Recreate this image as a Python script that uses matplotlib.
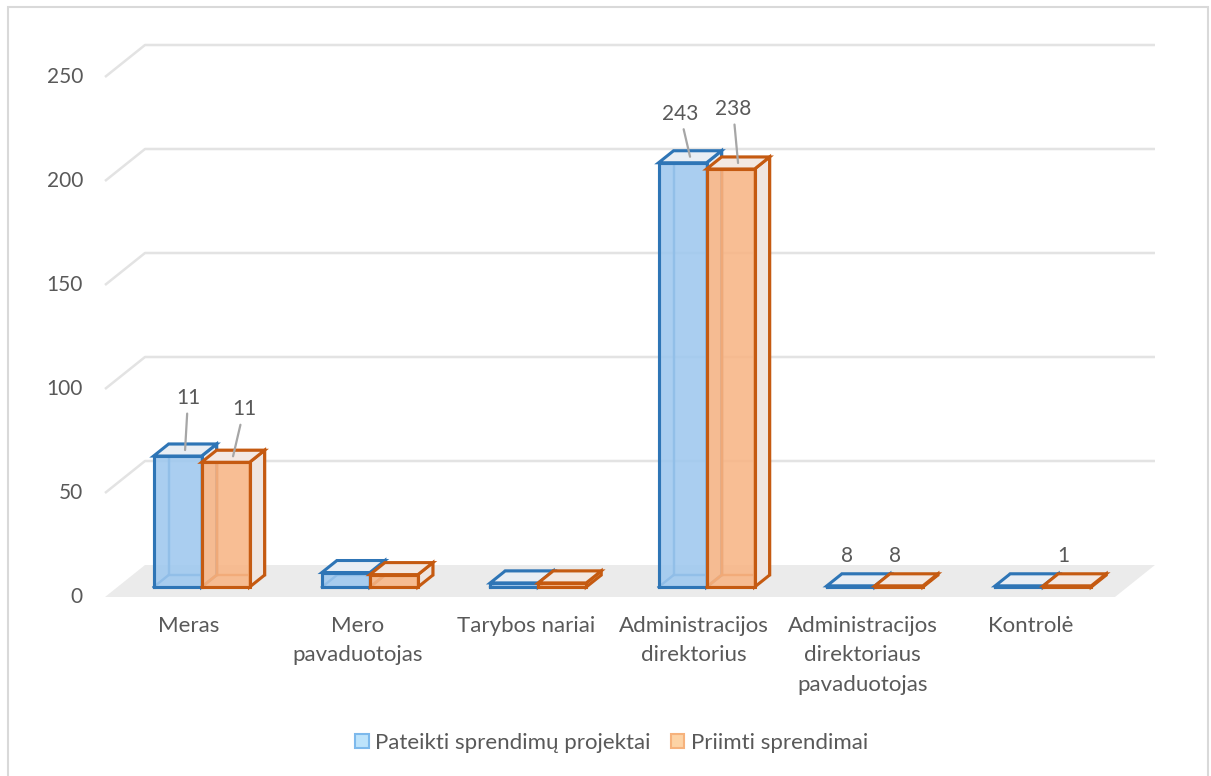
import matplotlib
matplotlib.use("Agg")
import matplotlib.pyplot as plt
from matplotlib.patches import Polygon, Patch, Rectangle

# ---- data ----
categories = ["Meras", "Mero\npavaduotojas", "Tarybos nariai",
              "Administracijos\ndirektorius",
              "Administracijos\ndirektoriaus\npavaduotojas", "Kontrolė"]
series_names = ["Pateikti sprendimų projektai", "Priimti sprendimai"]
submitted = [63, 7, 2, 204, 0.6, 0.6]      # drawn bar heights
adopted = [60, 6, 2, 201, 0.6, 0.6]
submitted_labels = ["11", "", "", "243", "8", ""]
adopted_labels = ["11", "", "", "238", "8", "1"]
yticks = [0, 50, 100, 150, 200, 250]

# ---- layout (pixels) ----
W, H = 1211, 776
X0 = 105.0        # front-left floor edge
CAT = 168.33      # px per category
Y0 = 597.0        # front floor baseline
PPU = 2.08        # px per value unit
DXP, DYP = 40.0, 32.0  # depth offset in px

DX = DXP / CAT
DY = DYP / PPU
D0, DD = 0.31, 0.375   # bar depth start/extent (fraction)
BW = 48.0 / CAT

TXT = "#595959"
GRID = "#e3e3e3"
plt.rcParams['font.family'] = ['Lato', 'DejaVu Sans']

fig = plt.figure(figsize=(W / 100, H / 100), dpi=100)
ax = fig.add_axes([0, 0, 1, 1])
ax.set_xlim(-0.5 - X0 / CAT, -0.5 + (W - X0) / CAT)
ax.set_ylim((Y0 - H) / PPU, Y0 / PPU)
ax.axis("off")

n = len(categories)
xl, xr = -0.5, n - 0.5

# chart border
fig.patches.append(Rectangle((8 / W, -0.01), (1208 - 8) / W, 1 - 7 / H + 0.01,
                             transform=fig.transFigure, fill=False,
                             edgecolor="#d9d9d9", lw=1.5))

# floor
ax.add_patch(Polygon([(xl, 0), (xr, 0), (xr + DX, DY), (xl + DX, DY)],
                     closed=True, facecolor="#ebebeb", edgecolor="none", zorder=1))
# gridlines
for v in yticks[1:]:
    ax.plot([xl, xl + DX, xr + DX], [v, v + DY, v + DY], color=GRID, lw=1.8,
            zorder=1, solid_capstyle="butt")
for v in yticks:
    ax.text(xl - 22 / CAT, v + 0.0, str(v), ha="right", va="center",
            fontsize=15, color=TXT)

# categories
for i, c in enumerate(categories):
    ax.text(i, -9.0, c, ha="center", va="top", fontsize=16, color=TXT,
            linespacing=1.6)

styles = [
    dict(front="#9ec8ef", edge="#2e75b6", top="#e9eef4", side="#e6ecf2"),
    dict(front="#f8b585", edge="#c55a11", top="#f3e8e2", side="#efe5e0"),
]

def draw_box(x0, h, st, z):
    x1 = x0 + BW
    fx, fy = D0 * DX, D0 * DY
    bx, by = (D0 + DD) * DX, (D0 + DD) * DY
    lw = 2.2
    # back face edges
    ax.add_patch(Polygon([(x0 + bx, by), (x1 + bx, by), (x1 + bx, h + by), (x0 + bx, h + by)],
                         closed=True, facecolor="none", edgecolor=st["edge"], lw=lw * 0.8,
                         alpha=0.9, zorder=z))
    # bottom left depth edge
    ax.plot([x0 + fx, x0 + bx], [fy, by], color=st["edge"], lw=lw * 0.8, zorder=z)
    # right side face
    ax.add_patch(Polygon([(x1 + fx, fy), (x1 + bx, by), (x1 + bx, h + by), (x1 + fx, h + fy)],
                         closed=True, facecolor=st["side"], edgecolor=st["edge"], lw=lw,
                         joinstyle="miter", zorder=z + 0.1))
    # top face
    ax.add_patch(Polygon([(x0 + fx, h + fy), (x1 + fx, h + fy), (x1 + bx, h + by), (x0 + bx, h + by)],
                         closed=True, facecolor=st["top"], edgecolor=st["edge"], lw=lw,
                         joinstyle="miter", zorder=z + 0.2))
    # front face
    ax.bar(x0 + fx, h, width=BW, bottom=fy, align="edge", color=st["front"],
           alpha=0.88, edgecolor=st["edge"], lw=lw, zorder=z + 0.3)
    ax.plot([x0 + fx, x1 + fx, x1 + fx, x0 + fx, x0 + fx],
            [fy, fy, h + fy, h + fy, fy], color=st["edge"], lw=lw, zorder=z + 0.4)

# label offsets in pixels (dx, dy up), leader flag
sub_off = [(3, 42, True), None, None, (-10, 33, True), (-11, 14, False), None]
ado_off = [(11, 37, True), None, None, (-5, 44, True), (-11, 14, False), (-11, 14, False)]

for i in range(n):
    for s, (vals, labs, offs) in enumerate([(submitted, submitted_labels, sub_off),
                                             (adopted, adopted_labels, ado_off)]):
        x0 = i - BW + s * BW
        z = 3 + i * 2 + s
        draw_box(x0, vals[i], styles[s], z)
        if labs[i]:
            dxp, dyp, lead = offs[i]
            ax_x = x0 + BW / 2 + (D0 + DD / 2) * DX
            ax_y = vals[i] + (D0 + DD / 2) * DY
            ax.annotate(labs[i], xy=(ax_x, ax_y), xytext=(dxp, dyp),
                        textcoords="offset pixels", ha="center", va="bottom",
                        fontsize=15, color=TXT, zorder=30,
                        arrowprops=dict(arrowstyle="-", color="#a6a6a6", lw=1.6,
                                        shrinkA=2, shrinkB=0) if lead else None)

handles = [Patch(facecolor="#bde3fb", edgecolor="#7db9ec", lw=1.5),
           Patch(facecolor="#fdd3a5", edgecolor="#f6b27c", lw=1.5)]
fig.legend(handles, series_names, loc="center", bbox_to_anchor=(0.505, 1 - 743 / H),
           ncol=2, frameon=False, fontsize=16, labelcolor=TXT,
           handlelength=0.6, handleheight=0.6, handletextpad=0.3, columnspacing=0.9)

fig.savefig("out.png", dpi=100)
